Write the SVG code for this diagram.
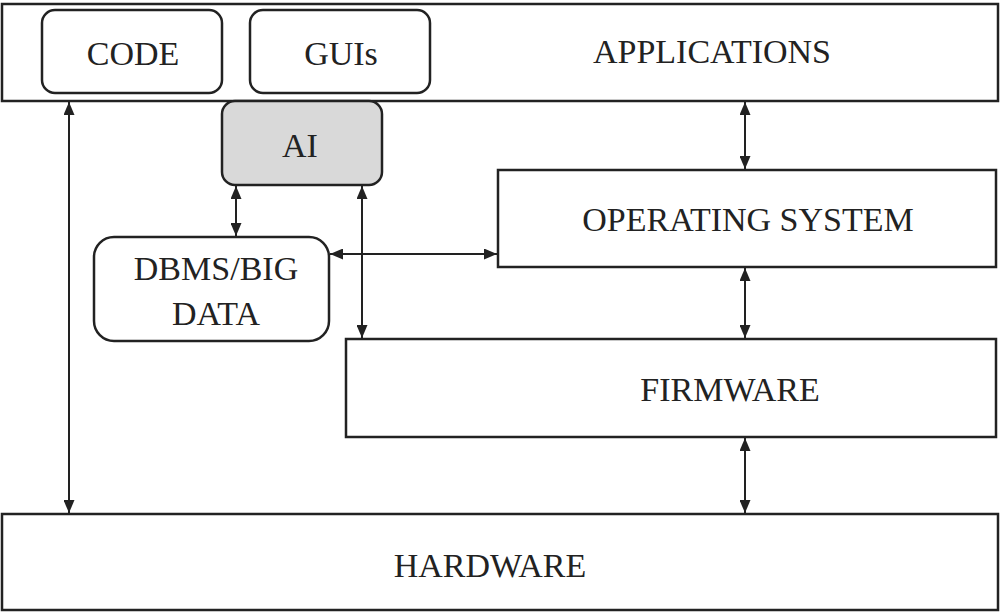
<svg xmlns="http://www.w3.org/2000/svg" width="1000" height="613" viewBox="0 0 1000 613">
<style>
.b{fill:#fff;stroke:#222;stroke-width:2.5}
.g{fill:#d9d9d9;stroke:#222;stroke-width:2.5}
.t{font-family:"Liberation Serif","Times New Roman",serif;font-size:34px;fill:#222;text-anchor:middle}
.c{stroke:#222;stroke-width:2;fill:none;marker-start:url(#a);marker-end:url(#a)}
</style>
<defs><marker id="a" viewBox="0 0 10 10" refX="10" refY="5" markerWidth="13" markerHeight="11" orient="auto-start-reverse" markerUnits="userSpaceOnUse" preserveAspectRatio="none"><path d="M0,0L10,5L0,10z" fill="#222"/></marker></defs>
<rect width="1000" height="613" fill="#fff"/>
<g id="applications"><rect class="b" x="2" y="4" width="996" height="97"/><text class="t" x="712" y="63">APPLICATIONS</text></g>
<g id="code"><rect class="b" x="42" y="10" width="180" height="83" rx="13"/><text class="t" x="133" y="65">CODE</text></g>
<g id="guis"><rect class="b" x="250" y="10" width="180" height="83" rx="13"/><text class="t" x="341" y="65">GUIs</text></g>
<g id="ai"><rect class="g" x="222" y="101" width="160" height="84" rx="13"/><text class="t" x="300" y="157">AI</text></g>
<g id="os"><rect class="b" x="498" y="170" width="498" height="97"/><text class="t" x="748" y="231">OPERATING SYSTEM</text></g>
<g id="dbms"><rect class="b" x="94" y="237" width="235" height="104" rx="20"/><text class="t" x="216" y="280">DBMS/BIG</text><text class="t" x="216" y="325">DATA</text></g>
<g id="firmware"><rect class="b" x="346" y="339" width="650" height="98"/><text class="t" x="730" y="401">FIRMWARE</text></g>
<g id="hardware"><rect class="b" x="2" y="514" width="996" height="96"/><text class="t" x="490" y="577">HARDWARE</text></g>
<g id="connectors">
<line class="c" x1="69" y1="102" x2="69" y2="513"/>
<line class="c" x1="236" y1="186" x2="236" y2="236"/>
<line class="c" x1="362" y1="186" x2="362" y2="338"/>
<line class="c" x1="330" y1="254" x2="497" y2="254"/>
<line class="c" x1="745" y1="102" x2="745" y2="169"/>
<line class="c" x1="745" y1="268" x2="745" y2="338"/>
<line class="c" x1="745" y1="438" x2="745" y2="513"/>
</g>
</svg>
